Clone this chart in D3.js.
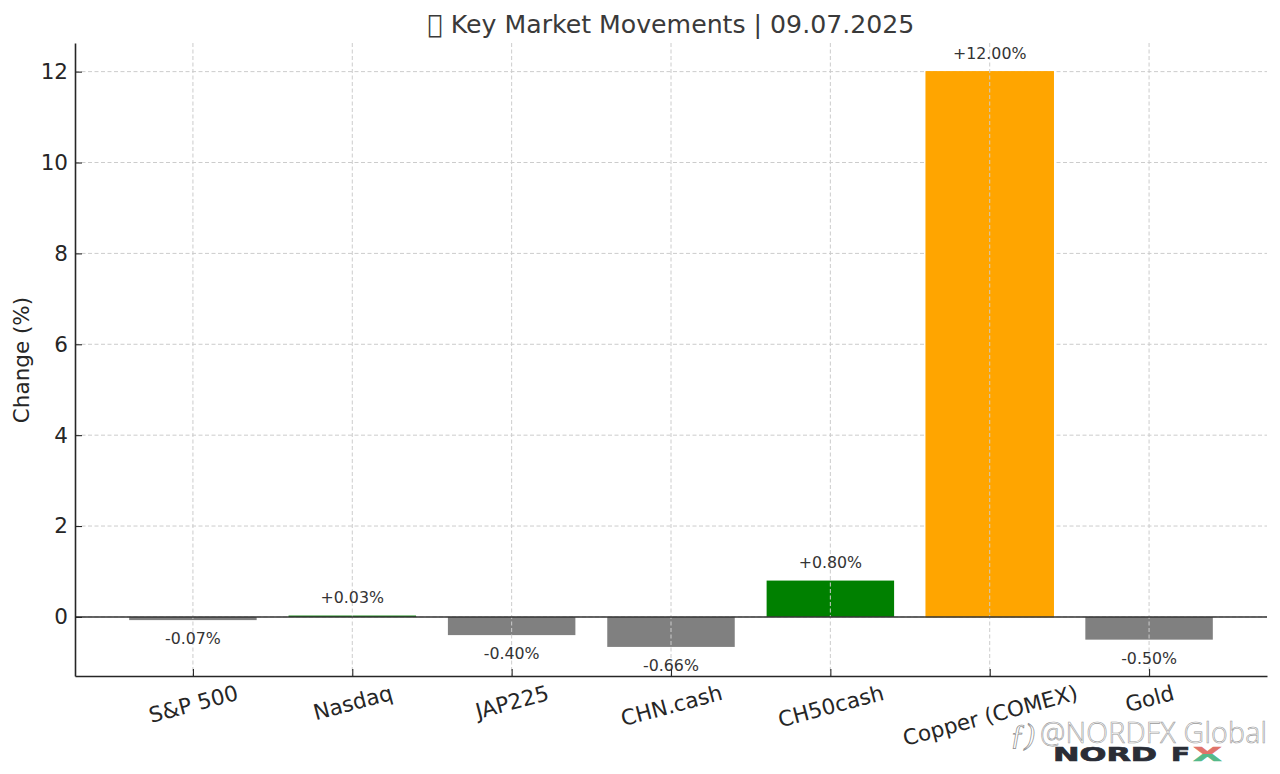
<!DOCTYPE html>
<html><head><meta charset="utf-8">
<script src="https://cdn.jsdelivr.net/npm/d3@7/dist/d3.min.js"></script>
<style>html,body{margin:0;padding:0;background:#fff}svg{display:block}text{font-family:"DejaVu Sans",sans-serif}</style>
</head><body><div id="c"></div>
<script>
const categories = ["S&P 500","Nasdaq","JAP225","CHN.cash","CH50cash","Copper (COMEX)","Gold"];
const changes = [-0.07,0.03,-0.40,-0.66,0.80,12.00,-0.50];
const barColors = ["#808080","#008000","#808080","#808080","#008000","#ffa500","#808080"];
const yTicks = [0,2,4,6,8,10,12];
const titleText = "\uE000 Key Market Movements | 09.07.2025";
const yLabel = "Change (%)";
const yDomain = [-1.3,12.63];
const W=1280,H=774,L=75,R=1267,T=43,B=676;
const svg=d3.select("#c").append("svg").attr("width",W).attr("height",H);
const x=d3.scalePoint().domain(categories).range([L,R]).padding(0.74);
const y=d3.scaleLinear().domain(yDomain).range([B,T]);
const bw=x.step()*0.8;
const grid=svg.append("g").attr("stroke","#cccccc").attr("stroke-width",1).attr("stroke-dasharray","4 2.5");
grid.selectAll("line").data(yTicks).join("line").attr("x1",L).attr("x2",R).attr("y1",d=>y(d)).attr("y2",d=>y(d));
const bars=svg.append("g");
bars.selectAll("rect").data(categories).join("rect")
 .attr("x",d=>x(d)-bw/2).attr("width",bw)
 .attr("y",(d,i)=>Math.min(y(0),y(changes[i])))
 .attr("height",(d,i)=>Math.abs(y(0)-y(changes[i])))
 .attr("fill",(d,i)=>barColors[i])
 .attr("stroke",(d,i)=>barColors[i]==="#ffa500"?"#ffa500":"none").attr("stroke-width",1);
const vgrid=svg.append("g").attr("stroke","#cccccc").attr("stroke-width",1).attr("stroke-dasharray","4 2.5");
vgrid.selectAll("line").data(categories).join("line").attr("x1",d=>x(d)).attr("x2",d=>x(d)).attr("y1",T).attr("y2",B);
svg.append("line").attr("x1",L).attr("x2",R).attr("y1",y(0)).attr("y2",y(0)).attr("stroke","#333").attr("stroke-width",1.5);
const labels=svg.append("g").attr("font-size",15.8).attr("fill","#333").attr("text-anchor","middle");
labels.selectAll("text").data(categories).join("text")
 .attr("x",d=>x(d))
 .attr("y",(d,i)=>changes[i]>=0?y(changes[i])-13:y(changes[i])+24)
 .text((d,i)=>(changes[i]>=0?"+":"")+changes[i].toFixed(2)+"%");
const yAxis=d3.axisLeft(y).tickValues(yTicks).tickSize(7).tickSizeOuter(0).tickPadding(0);
const gy=svg.append("g").attr("transform",`translate(${L},0)`).call(yAxis);
gy.selectAll("text").attr("font-size",21.5).attr("fill","#262626").style("font-family",'"DejaVu Sans"');
const xAxis=d3.axisBottom(x).tickSize(7).tickSizeOuter(0);
const gx=svg.append("g").attr("transform",`translate(0,${B})`).call(xAxis);
gx.selectAll("text").attr("font-size",21.5).attr("fill","#262626").style("font-family",'"DejaVu Sans"')
 .attr("text-anchor","middle").attr("y",0).attr("dy","0.35em")
 .attr("transform",function(){
   const b=this.getBBox(), a=15*Math.PI/180;
   const rotH=b.width*Math.sin(a)+b.height*Math.cos(a);
   return `translate(0,${4+rotH/2}) rotate(-15)`;
 });
gx.selectAll(".tick line").attr("y1",-7).attr("y2",0);
gy.selectAll(".tick line").attr("x1",0).attr("x2",7);
[gx,gy].forEach(g=>{g.selectAll(".domain").attr("stroke","#262626").attr("stroke-width",1.6);g.selectAll(".tick line").attr("stroke","#262626").attr("stroke-width",1.1);});
svg.append("text").attr("x",671).attr("y",33).attr("text-anchor","middle").attr("font-size",25.2).attr("fill","#3a3a3a").text(titleText);
svg.append("text").attr("transform","translate(29,360) rotate(-90)").attr("text-anchor","middle").attr("font-size",21.5).attr("fill","#262626").text(yLabel);
// watermark
svg.append("text").attr("x",1010).attr("y",744).attr("font-size",30).attr("font-style","italic").attr("fill","#fff").attr("stroke","#8a8a8a").attr("stroke-width",0.7).style("font-family",'"Liberation Serif"').text("\u0192)");
svg.append("text").attr("x",1040).attr("y",743).attr("font-size",28.5).attr("fill","#fff").attr("stroke","#999").attr("stroke-width",0.6).style("font-family",'"Open Sans"').attr("font-weight",300).attr("textLength",227).text("@NORDFX Global");
const logo=svg.append("g").attr("font-weight",700).attr("font-size",19.2);
logo.append("text").attr("transform","translate(1053,761) scale(1.65,1)").attr("fill","#2a2d36").attr("stroke","#2a2d36").attr("stroke-width",0.7).text("NORD");
logo.append("text").attr("transform","translate(1171,761) scale(1.45,1)").attr("fill","#2a2d36").attr("stroke","#2a2d36").attr("stroke-width",0.7).text("F");
const defs=svg.append("defs");
defs.append("clipPath").attr("id","xTop").append("rect").attr("x",1190).attr("y",745).attr("width",36).attr("height",9);
defs.append("clipPath").attr("id","xBot").append("rect").attr("x",1190).attr("y",754).attr("width",36).attr("height",9);
logo.append("g").attr("clip-path","url(#xTop)").append("text").attr("transform","translate(1193,761) scale(1.95,1)").attr("fill","#e0736a").attr("stroke","#e0736a").attr("stroke-width",0.5).text("X");
logo.append("g").attr("clip-path","url(#xBot)").append("text").attr("transform","translate(1193,761) scale(1.95,1)").attr("fill","#55b98a").attr("stroke","#55b98a").attr("stroke-width",0.5).text("X");
</script></body></html>
